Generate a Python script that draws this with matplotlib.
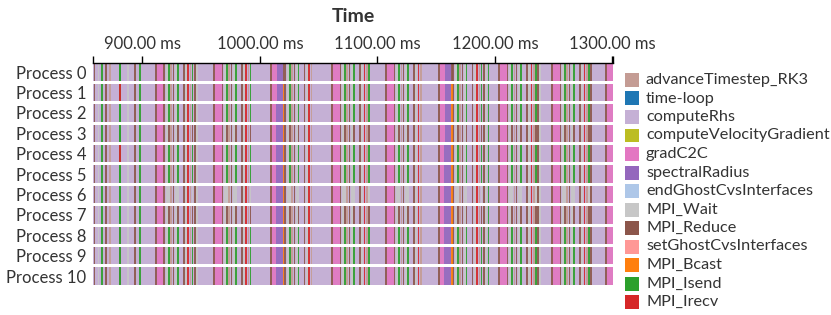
import matplotlib
matplotlib.use("Agg")
import matplotlib.pyplot as plt
from matplotlib.patches import Rectangle

plt.rcParams['font.family'] = ['Lato', 'DejaVu Sans']

processes = ["Process 0", "Process 1", "Process 2", "Process 3", "Process 4", "Process 5",
             "Process 6", "Process 7", "Process 8", "Process 9", "Process 10"]
functions = ["advanceTimestep_RK3", "time-loop", "computeRhs", "computeVelocityGradient",
             "gradC2C", "spectralRadius", "endGhostCvsInterfaces", "MPI_Wait", "MPI_Reduce",
             "setGhostCvsInterfaces", "MPI_Bcast", "MPI_Isend", "MPI_Irecv"]
colors = ["#c49c94", "#1f77b4", "#c5b0d5", "#bcbd22", "#e377c2", "#9467bd", "#aec7e8",
          "#c7c7c7", "#8c564b", "#ff9896", "#ff7f0e", "#2ca02c", "#d62728"]

# visible time window (ms), computeRhs runs underneath everything
t_min, t_max = 857.9, 1300.6
tick_vals = [900, 1000, 1100, 1200, 1300]

# stripes before the first gradC2C block
lead_starts = [858.6, 861.9, 865.0, 868.1, 871.5, 880.4, 886.9, 893.2, 897.4]
lead_funcs = ["MPI_Reduce", "MPI_Wait", "MPI_Isend", "MPI_Reduce", "advanceTimestep_RK3",
              "MPI_Isend", "MPI_Wait", "MPI_Reduce", "MPI_Isend"]
# the heavier stripe at ~880 ms differs per process
lead_mark = ["MPI_Isend", "MPI_Irecv", "MPI_Isend", "MPI_Isend", "MPI_Irecv", "MPI_Isend",
             "MPI_Isend", "MPI_Isend", "MPI_Reduce", "MPI_Reduce", "MPI_Reduce"]

# RK substeps: start of gradC2C block and length of the communication burst (ms)
substep_starts = [912.2, 961.6, 1010.1, 1062.1, 1108.1, 1153.2, 1204.3, 1249.4, 1295.4]
substep_lens = [36.6, 32.0, 30.0, 31.5, 30.7, 38.0, 36.6, 34.0, 6.0]
spectral_steps = [1010.1, 1153.2]
# width of gradC2C before spectralRadius, and call right after it, per process
spec_pink = [4.5, 4.5, 4.0, 4.0, 3.2, 3.2, 3.6, 3.2, 3.2, 3.2, 3.2]
spec_after = ["MPI_Reduce", "MPI_Bcast", "MPI_Bcast", "MPI_Bcast", "MPI_Bcast", "MPI_Bcast",
              "MPI_Bcast", "MPI_Bcast", "MPI_Bcast", "MPI_Bcast", "MPI_Bcast"]
# call used for the coloured stripes of the burst, per process
burst_accent = ["MPI_Isend", "MPI_Isend", "MPI_Isend", "MPI_Reduce", "MPI_Isend", "MPI_Isend",
                "MPI_Wait", "MPI_Reduce", "MPI_Isend", "MPI_Isend", "MPI_Isend"]

# burst of short calls after gradC2C (offset ms, width ms, function)
burst_offsets = [5.7, 7.8, 9.7, 11.6, 13.5, 15.4, 17.3, 22.3, 24.2, 26.1, 28.0, 29.9,
                 31.8, 33.7, 35.6]
burst_widths = [1.3, 1.6, 1.3, 1.5, 1.3, 1.6, 1.2, 1.3, 1.6, 1.3, 1.5, 1.3, 1.3, 1.6, 1.2]
burst_funcs = ["MPI_Reduce", "MPI_Wait", "accent", "advanceTimestep_RK3", "MPI_Reduce",
               "MPI_Wait", "accent", "MPI_Reduce", "MPI_Wait", "MPI_Irecv",
               "advanceTimestep_RK3", "accent", "MPI_Reduce", "MPI_Wait", "MPI_Isend"]

cmap = dict(zip(functions, colors))

fig = plt.figure(figsize=(8.31, 3.15), dpi=100)
W, H = 831, 315
ax = fig.add_axes([93 / W, 1 - 285 / H, 520 / W, 222 / H])

row_pitch, bar_h = 20.4, 17.5

for i, proc in enumerate(processes):
    y0 = 0.3 + i * row_pitch
    segs = {f: [] for f in functions}
    for t, f in zip(lead_starts, lead_funcs):
        segs[f].append((t, 1.4))
    segs[lead_mark[i]].append((lead_starts[5], 1.6))
    for s, ln in zip(substep_starts, substep_lens):
        segs["MPI_Reduce"].append((s - 1.4, 1.2))
        if s in spectral_steps:
            p = spec_pink[i]
            segs["gradC2C"].append((s, p))
            segs["spectralRadius"].append((s + p, 9.3 - p))
            segs[spec_after[i]].append((s + 9.3, 1.5))
            shift = 5.0
        else:
            segs["gradC2C"].append((s, 5.7))
            shift = 0.0
        for o, w, f in zip(burst_offsets, burst_widths, burst_funcs):
            if f == "accent":
                f = burst_accent[i]
            if o + w <= ln and s + o + shift < t_max:
                segs[f].append((s + o + shift, w))
    ax.broken_barh([(t_min, t_max - t_min)], (y0, bar_h), facecolors=cmap["computeRhs"],
                   linewidth=0)
    for f in functions:
        if f != "computeRhs" and segs[f]:
            ax.broken_barh(segs[f], (y0, bar_h), facecolors=cmap[f], linewidth=0,
                           alpha=0.9)

ax.set_xlim(t_min, t_max)
ax.set_ylim(222, 0)
for s in ["left", "right", "bottom"]:
    ax.spines[s].set_visible(False)
ax.spines["top"].set_linewidth(1.0)
ax.xaxis.tick_top()
ax.set_xticks(tick_vals)
ax.set_xticklabels(["%.2f ms" % v for v in tick_vals])
ax.set_xticks([t_min, t_max], minor=True)
ax.tick_params(axis="x", which="both", length=5, width=1, direction="out", pad=3,
               labelsize=12, labelcolor="#333333")
ax.set_yticks([0.3 + i * row_pitch + bar_h / 2 for i in range(len(processes))])
ax.set_yticklabels(processes)
ax.tick_params(axis="y", length=0, pad=5, labelsize=12, labelcolor="#333333")

fig.text(353 / W, 1 - 16 / H, "Time", ha="center", va="center", fontsize=14,
         fontweight="bold", color="#333333")

# legend
for k, (f, c) in enumerate(zip(functions, colors)):
    yc = 80 + k * 18.5
    fig.patches.append(Rectangle((625 / W, 1 - (yc + 7) / H), 14 / W, 14 / H,
                                 transform=fig.transFigure, facecolor=c, edgecolor="none"))
    fig.text(646 / W, 1 - yc / H, f, ha="left", va="center", fontsize=11.7, color="#333333")

fig.savefig("out.png", dpi=100)
